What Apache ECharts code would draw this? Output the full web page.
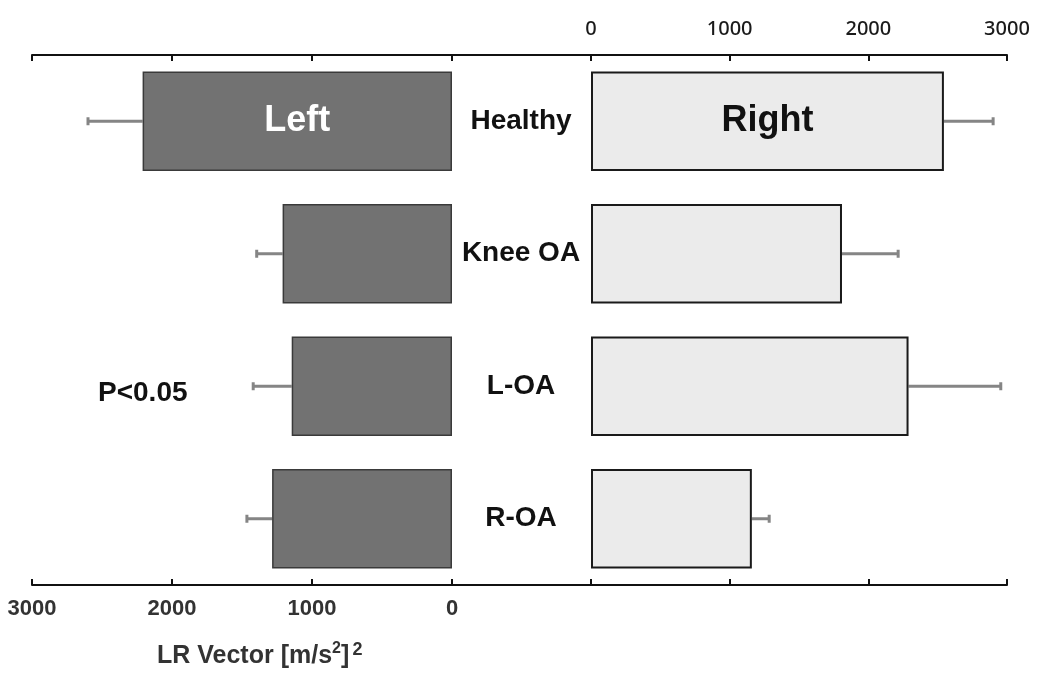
<!DOCTYPE html>
<html>
<head>
<meta charset="utf-8">
<script src="https://cdn.jsdelivr.net/npm/echarts@6/dist/echarts.min.js"></script>
<style>
html,body{margin:0;padding:0;background:#fff;}
#chart{width:1046px;height:676px;}
</style>
</head>
<body>
<div id="chart"></div>
<script>
// ---- data ----
const categories = ['Healthy', 'Knee OA', 'L-OA', 'R-OA'];
const leftMean  = [2210, 1210, 1145, 1285];
const leftSD    = [390, 185, 275, 180];
const rightMean = [2545, 1810, 2290, 1160];
const rightSD   = [355, 405, 665, 125];
const axisMin = 0, axisMax = 3000, axisStep = 1000;
const sideLabels = ['Left', 'Right'];
const axisTitleParts = ['LR Vector [m/s', '2', ']', '2'];
const annotation = 'P<0.05';

// ---- chart ----
const chart = echarts.init(document.getElementById('chart'), null, {renderer: 'canvas'});
const FONT = '"Liberation Sans", Arial, sans-serif';
const lineStyle = {color: '#111', width: 2};
const plain = v => String(v);

function valueAxis(gridIndex, position, opts) {
  return Object.assign({
    type: 'value', gridIndex: gridIndex, position: position,
    min: axisMin, max: axisMax, interval: axisStep,
    splitLine: {show: false},
    axisLine: {show: true, onZero: false, lineStyle: lineStyle},
    axisTick: {show: true, inside: true, length: 6, lineStyle: {color: '#111', width: 2}},
    axisLabel: {show: false}
  }, opts || {});
}

function errRender(params, api) {
  const cat = api.value(1), mean = api.value(0), sd = api.value(2);
  const p0 = api.coord([mean, cat]);
  const p1 = api.coord([mean + sd, cat]);
  const st = {stroke: '#858585', lineWidth: 3};
  return {type: 'group', children: [
    {type: 'line', shape: {x1: p0[0], y1: p0[1], x2: p1[0], y2: p1[1]}, style: st},
    {type: 'line', shape: {x1: p1[0], y1: p1[1] - 4, x2: p1[0], y2: p1[1] + 4}, style: st}
  ]};
}

const option = {
  backgroundColor: '#fff',
  animation: false,
  grid: [
    {left: 32, width: 420, top: 55, height: 530},
    {left: 452, width: 139, top: 55, height: 530},
    {left: 591, width: 416, top: 55, height: 530}
  ],
  xAxis: [
    valueAxis(0, 'top', {inverse: true}),
    valueAxis(0, 'bottom', {inverse: true, axisLabel: {show: true, formatter: plain, margin: 13, fontFamily: FONT, fontWeight: 'bold', fontSize: 22, color: '#333'}}),
    valueAxis(1, 'top', {axisTick: {show: false}}),
    valueAxis(1, 'bottom', {axisTick: {show: false}}),
    valueAxis(2, 'top', {axisLabel: {show: true, formatter: plain, margin: 16, fontFamily: '"Noto Sans", sans-serif', fontWeight: 500, fontSize: 20, color: '#1a1a1a'}}),
    valueAxis(2, 'bottom')
  ],
  yAxis: [
    {type: 'category', gridIndex: 0, data: categories, inverse: true, show: false},
    {type: 'category', gridIndex: 1, data: categories, inverse: true, show: false},
    {type: 'category', gridIndex: 2, data: categories, inverse: true, position: 'left',
     axisLine: {show: false}, axisTick: {show: false},
     axisLabel: {show: true, margin: 70, align: 'center', fontFamily: FONT, fontWeight: 'bold', fontSize: 28, color: '#111'}}
  ],
  series: [
    {
      type: 'bar', xAxisIndex: 1, yAxisIndex: 0, barWidth: '75%',
      itemStyle: {color: '#727272', borderColor: '#3a3a3a', borderWidth: 1.5},
      data: leftMean.map((v, i) => i === 0 ? {value: v, label: {show: true, position: 'inside', formatter: sideLabels[0], color: '#fff', fontFamily: FONT, fontWeight: 'bold', fontSize: 36}} : v),
      z: 3
    },
    {
      type: 'custom', xAxisIndex: 1, yAxisIndex: 0,
      renderItem: errRender, encode: {x: 0, y: 1},
      data: leftMean.map((v, i) => [v, i, leftSD[i]]), z: 2
    },
    {
      type: 'bar', xAxisIndex: 4, yAxisIndex: 2, barWidth: '75%',
      itemStyle: {color: '#ebebeb', borderColor: '#1a1a1a', borderWidth: 2},
      data: rightMean.map((v, i) => i === 0 ? {value: v, label: {show: true, position: 'inside', formatter: sideLabels[1], color: '#111', fontFamily: FONT, fontWeight: 'bold', fontSize: 36}} : v),
      z: 3
    },
    {
      type: 'custom', xAxisIndex: 4, yAxisIndex: 2,
      renderItem: errRender, encode: {x: 0, y: 1},
      data: rightMean.map((v, i) => [v, i, rightSD[i]]), z: 2
    }
  ],
  graphic: [
    {type: 'text', left: 98, top: 379, style: {text: annotation, fontFamily: FONT, fontWeight: 'bold', fontSize: 28, fill: '#111'}},
    {type: 'text', left: 157, top: 641, style: {
      text: '{a|' + axisTitleParts[0] + '}{s|' + axisTitleParts[1] + '}{a|' + axisTitleParts[2] + '}{g| }{t|' + axisTitleParts[3] + '}',
      rich: {
        a: {fontFamily: FONT, fontWeight: 'bold', fontSize: 25, lineHeight: 30, fill: '#333', color: '#333'},
        s: {fontFamily: FONT, fontWeight: 'bold', fontSize: 16, lineHeight: 17, verticalAlign: 'top', fill: '#333', color: '#333'},
        t: {fontFamily: FONT, fontWeight: 'bold', fontSize: 18, lineHeight: 18, verticalAlign: 'top', fill: '#333', color: '#333'},
        g: {fontFamily: FONT, fontSize: 12, lineHeight: 10}
      }
    }}
  ]
};
chart.setOption(option);
</script>
</body>
</html>
